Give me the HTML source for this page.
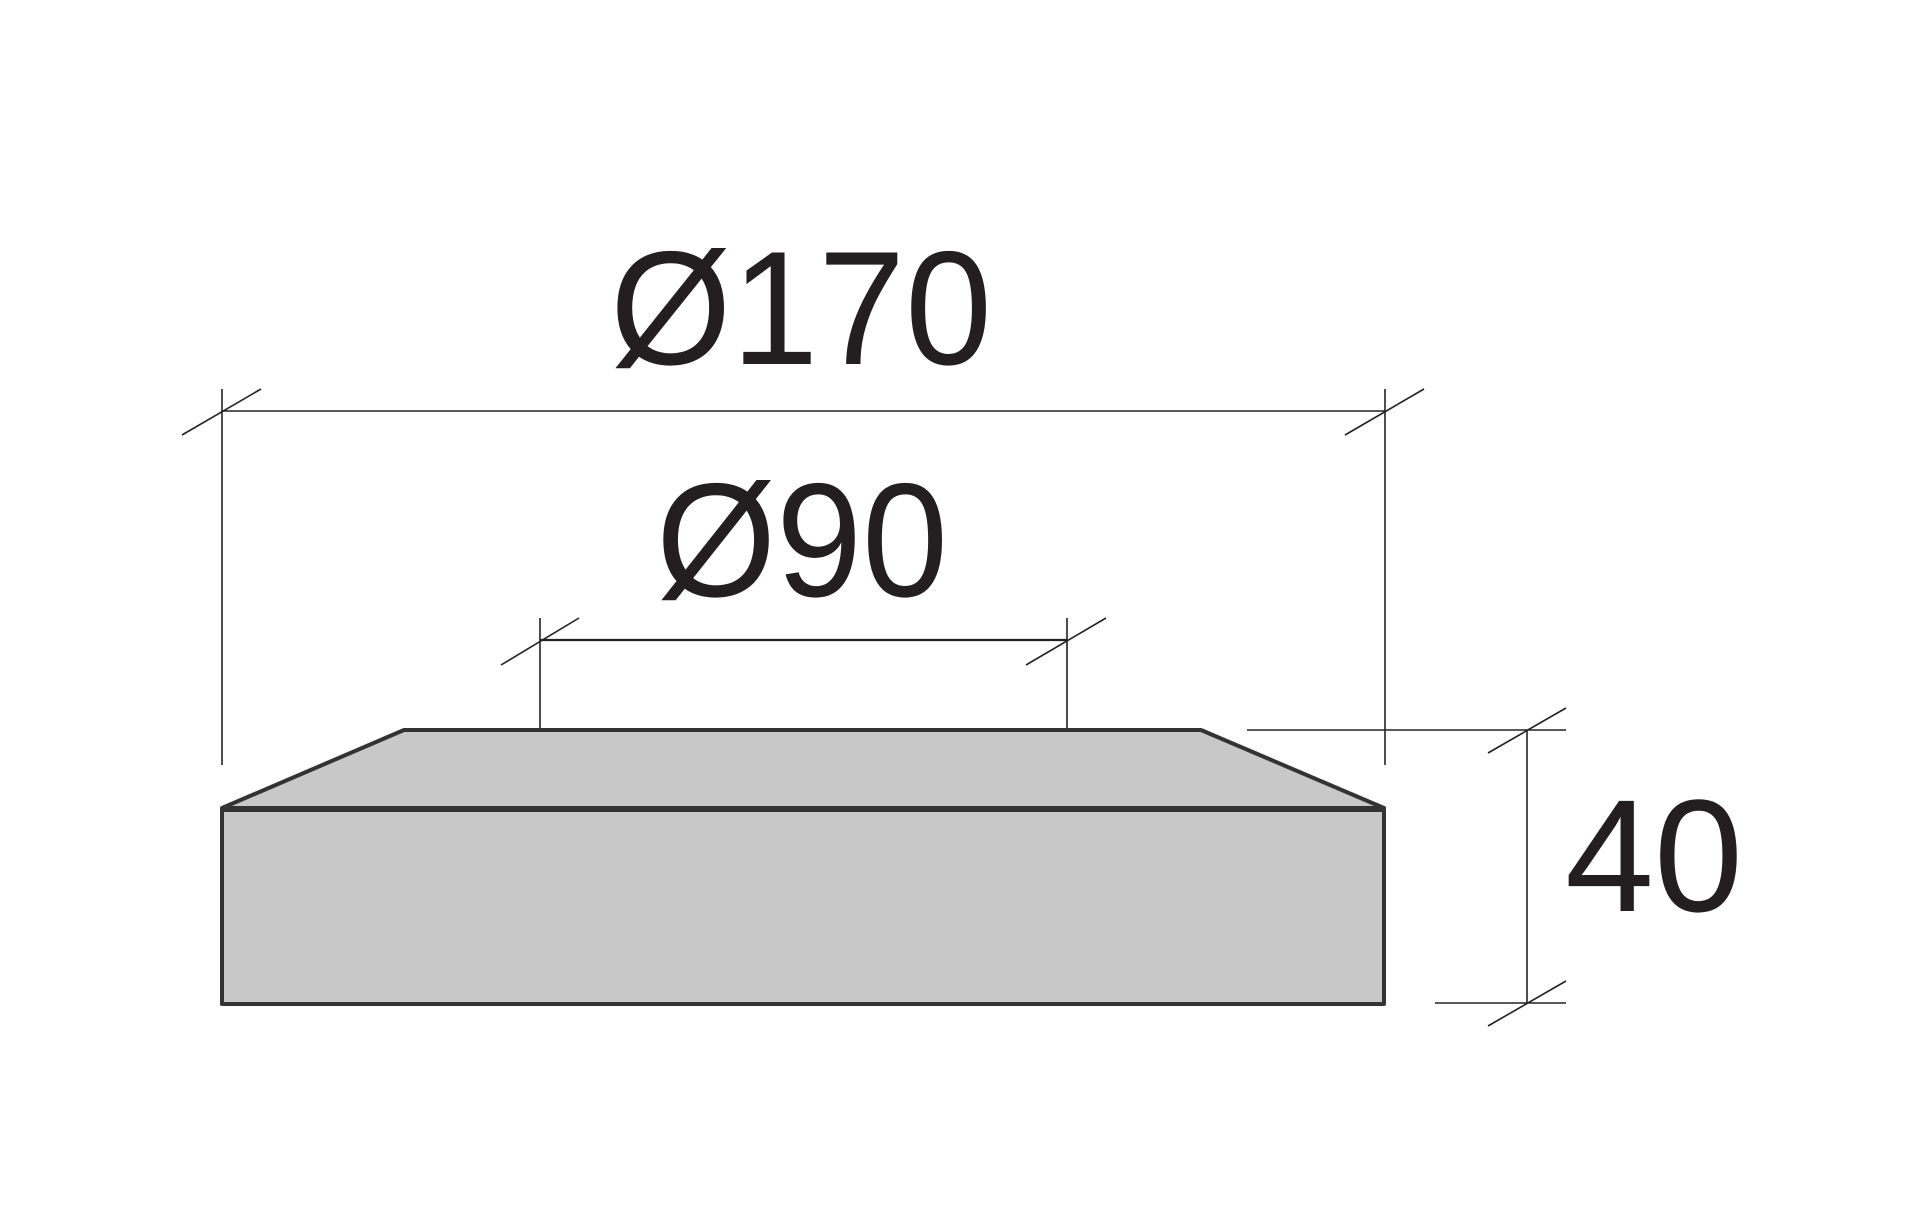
<!DOCTYPE html>
<html><head><style>html,body{margin:0;padding:0;background:#fff}svg{display:block}</style></head>
<body>
<svg width="1920" height="1209" viewBox="0 0 1920 1209" xmlns="http://www.w3.org/2000/svg">
<g stroke="#222" stroke-width="1.6" fill="none">
<line x1="222" y1="389" x2="222" y2="765"/>
<line x1="1385" y1="389" x2="1385" y2="765"/>
<line x1="222" y1="411" x2="1385" y2="411"/>
<line x1="182" y1="435" x2="261" y2="389"/>
<line x1="1345" y1="435" x2="1424" y2="389"/>
<line x1="540" y1="618" x2="540" y2="731"/>
<line x1="1067" y1="618" x2="1067" y2="731"/>
<line x1="540" y1="640" x2="1067" y2="640" stroke-width="2.2"/>
<line x1="501" y1="665" x2="579" y2="618"/>
<line x1="1026" y1="665" x2="1106" y2="618"/>
<line x1="1247" y1="730" x2="1566" y2="730"/>
<line x1="1527" y1="730" x2="1527" y2="1003"/>
<line x1="1435" y1="1003" x2="1566" y2="1003"/>
<line x1="1488" y1="753" x2="1566" y2="708"/>
<line x1="1488" y1="1026" x2="1566" y2="981"/>
</g>
<g fill="#c8c8c8" stroke="#333" stroke-width="4" stroke-linejoin="round">
<polygon points="222,808 404,730 1201,730 1384,808"/>
<rect x="222" y="810" width="1162" height="194"/>
</g>
<g font-family="Liberation Sans, sans-serif" fill="#231f20">
<text x="610" y="364" font-size="162" textLength="382" lengthAdjust="spacingAndGlyphs">Ø170</text>
<text x="656" y="596" font-size="162" textLength="292" lengthAdjust="spacingAndGlyphs">Ø90</text>
<text x="1565" y="911" font-size="160">40</text>
</g>
</svg>
</body></html>
